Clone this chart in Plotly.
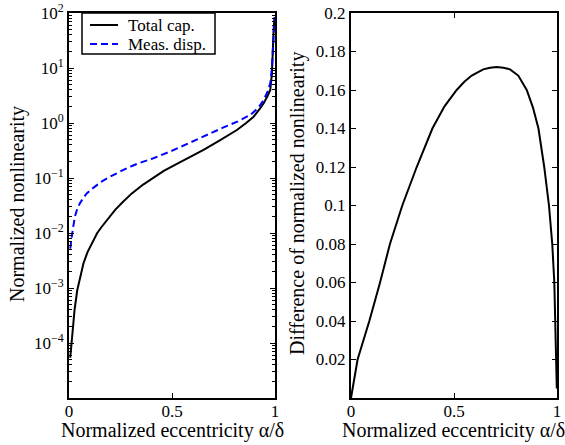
import plotly.graph_objects as go

# ---- data ----
ecc_total = [0.006, 0.012, 0.018, 0.027, 0.040, 0.055, 0.070, 0.090, 0.110, 0.137,
             0.159, 0.190, 0.224, 0.260, 0.305, 0.360, 0.410, 0.460, 0.510, 0.580,
             0.653, 0.730, 0.815, 0.860, 0.896, 0.925, 0.945, 0.965, 0.977, 0.985,
             0.990, 0.994, 0.997, 0.999]
total_cap = [5.4e-5, 1.05e-4, 1.7e-4, 4.0e-4, 9.1e-4, 1.66e-3, 2.8e-3, 4.5e-3, 6.5e-3, 1.0e-2,
             1.3e-2, 1.86e-2, 2.63e-2, 3.63e-2, 5.25e-2, 7.6e-2, 0.102, 0.135, 0.17, 0.234,
             0.324, 0.479, 0.746, 1.0, 1.30, 1.78, 2.28, 3.16, 3.98, 7.9,
             32.0, 56.0, 74.0, 80.0]

ecc_meas = [0.006, 0.010, 0.016, 0.022, 0.029, 0.040, 0.053, 0.070, 0.086, 0.110,
            0.135, 0.160, 0.191, 0.225, 0.264, 0.300, 0.337, 0.410, 0.490, 0.580,
            0.653, 0.750, 0.820, 0.880, 0.920, 0.945, 0.965, 0.977, 0.985, 0.990,
            0.995, 0.998]
meas_disp = [5.2e-3, 7.6e-3, 1.0e-2, 1.41e-2, 2.0e-2, 2.75e-2, 3.47e-2, 4.37e-2, 5.25e-2, 6.3e-2,
             7.4e-2, 8.7e-2, 0.102, 0.12, 0.14, 0.162, 0.185, 0.229, 0.302, 0.427,
             0.575, 0.832, 1.07, 1.40, 1.91, 2.62, 3.8, 5.25, 10.0, 25.0,
             50.0, 85.0]

ecc_diff = [0.0, 0.032, 0.089, 0.141, 0.189, 0.249, 0.319, 0.395, 0.454, 0.513,
            0.550, 0.586, 0.642, 0.675, 0.707, 0.740, 0.772, 0.812, 0.853, 0.883,
            0.910, 0.938, 0.961, 0.977, 0.987, 0.992, 0.996, 0.999]
diff_nl = [0.0, 0.020, 0.040, 0.060, 0.080, 0.100, 0.120, 0.140, 0.1515, 0.160,
           0.1643, 0.1675, 0.1707, 0.1716, 0.172, 0.1716, 0.1707, 0.1675, 0.160, 0.151,
           0.140, 0.120, 0.100, 0.080, 0.060, 0.040, 0.020, 0.005]

x_ticks = [0, 0.5, 1]
x_ticktext = ["0", "0.5", "1"]
log_ticks = [1e-4, 1e-3, 1e-2, 1e-1, 1e0, 1e1, 1e2]
log_ticktext = ["10<sup>−4</sup>", "10<sup>−3</sup>", "10<sup>−2</sup>", "10<sup>−1</sup>",
                "10<sup>0</sup>", "10<sup>1</sup>", "10<sup>2</sup>"]
diff_ticks = [0.02, 0.04, 0.06, 0.08, 0.1, 0.12, 0.14, 0.16, 0.18, 0.2]
diff_ticktext = ["0.02", "0.04", "0.06", "0.08", "0.1", "0.12", "0.14", "0.16", "0.18", "0.2"]
legend_labels = ["Total cap.", "Meas. disp."]

minor_log = [k * 10.0 ** e for e in range(-5, 2) for k in range(2, 10)]

FONT = "Liberation Serif"
DASH = "7px,4px"

fig = go.Figure()
fig.add_trace(go.Scatter(x=ecc_total, y=total_cap, mode="lines", name=legend_labels[0],
                         line=dict(color="black", width=2), xaxis="x", yaxis="y", showlegend=False))
fig.add_trace(go.Scatter(x=ecc_meas, y=meas_disp, mode="lines", name=legend_labels[1],
                         line=dict(color="blue", width=2, dash=DASH), xaxis="x", yaxis="y", showlegend=False))
fig.add_trace(go.Scatter(x=ecc_diff, y=diff_nl, mode="lines", showlegend=False,
                         line=dict(color="black", width=2),
                         xaxis="x2", yaxis="y2"))

ax_common = dict(showline=True, linecolor="black", linewidth=2, mirror="ticks",
                 ticks="inside", ticklen=5, tickwidth=1, tickcolor="black",
                 showgrid=False, zeroline=False, automargin=False,
                 tickfont=dict(family=FONT, size=17, color="black"))

L, R, T, B = 69, 8, 13, 47
W, H = 565, 445
pw = W - L - R
ph = H - T - B
dom1 = [0, (275 - L) / pw]
dom2 = [(351 - L) / pw, 1]

def px_x(p):
    return (p - L) / pw
def px_y(p):
    return (H - B - p) / ph

fig.update_layout(
    width=W, height=H,
    margin=dict(l=L, r=R, t=T, b=B, pad=0, autoexpand=False),
    paper_bgcolor="white", plot_bgcolor="white",
    font=dict(family=FONT, size=17, color="black"),
    xaxis=dict(domain=dom1, range=[0, 1], tickvals=x_ticks, ticktext=x_ticktext, anchor="y",
               ticklabelstandoff=-3, **ax_common),
    yaxis=dict(type="log", range=[-5, 2], tickvals=log_ticks, ticktext=log_ticktext, anchor="x",
               minor=dict(tickvals=minor_log, ticks="inside", ticklen=3, tickcolor="black", tickwidth=1),
               **ax_common),
    xaxis2=dict(domain=dom2, range=[0, 1], tickvals=x_ticks, ticktext=x_ticktext, anchor="y2",
                ticklabelstandoff=-3, **ax_common),
    yaxis2=dict(range=[0, 0.2], tickvals=diff_ticks, ticktext=diff_ticktext, anchor="x2", **ax_common),
    showlegend=False,
)

# legend box (MATLAB style)
fig.add_shape(type="rect", xref="paper", yref="paper",
              x0=px_x(82), x1=px_x(215), y0=px_y(54), y1=px_y(13),
              line=dict(color="black", width=1.5), fillcolor="white", layer="above")
leg_rows = [25, 44]
leg_styles = [dict(color="black", width=2), dict(color="blue", width=2, dash=DASH)]
for row, style, lab in zip(leg_rows, leg_styles, legend_labels):
    fig.add_shape(type="line", xref="paper", yref="paper",
                  x0=px_x(90), x1=px_x(118), y0=px_y(row), y1=px_y(row),
                  line=style, layer="above")
    fig.add_annotation(text=lab, x=px_x(126), y=px_y(row), xref="paper", yref="paper",
                       showarrow=False, xanchor="left", yanchor="middle",
                       font=dict(family=FONT, size=17, color="black"))

title_font = dict(family=FONT, size=20, color="black")
fig.add_annotation(text="Normalized eccentricity α/δ", x=px_x(172.5), y=px_y(430), xref="paper", yref="paper",
                   showarrow=False, xanchor="center", yanchor="middle", font=title_font)
fig.add_annotation(text="Normalized eccentricity α/δ", x=px_x(453), y=px_y(430), xref="paper", yref="paper",
                   showarrow=False, xanchor="center", yanchor="middle", font=title_font)
fig.add_annotation(text="Normalized nonlinearity", x=px_x(17), y=px_y(204), xref="paper", yref="paper",
                   showarrow=False, xanchor="center", yanchor="middle", textangle=-90, font=title_font)
fig.add_annotation(text="Difference of normalized nonlinearity", x=px_x(297), y=px_y(204), xref="paper", yref="paper",
                   showarrow=False, xanchor="center", yanchor="middle", textangle=-90, font=title_font)

fig.write_html("out.html", config={"displayModeBar": False},
               post_script="document.body.style.margin='0';document.body.style.padding='0';")
